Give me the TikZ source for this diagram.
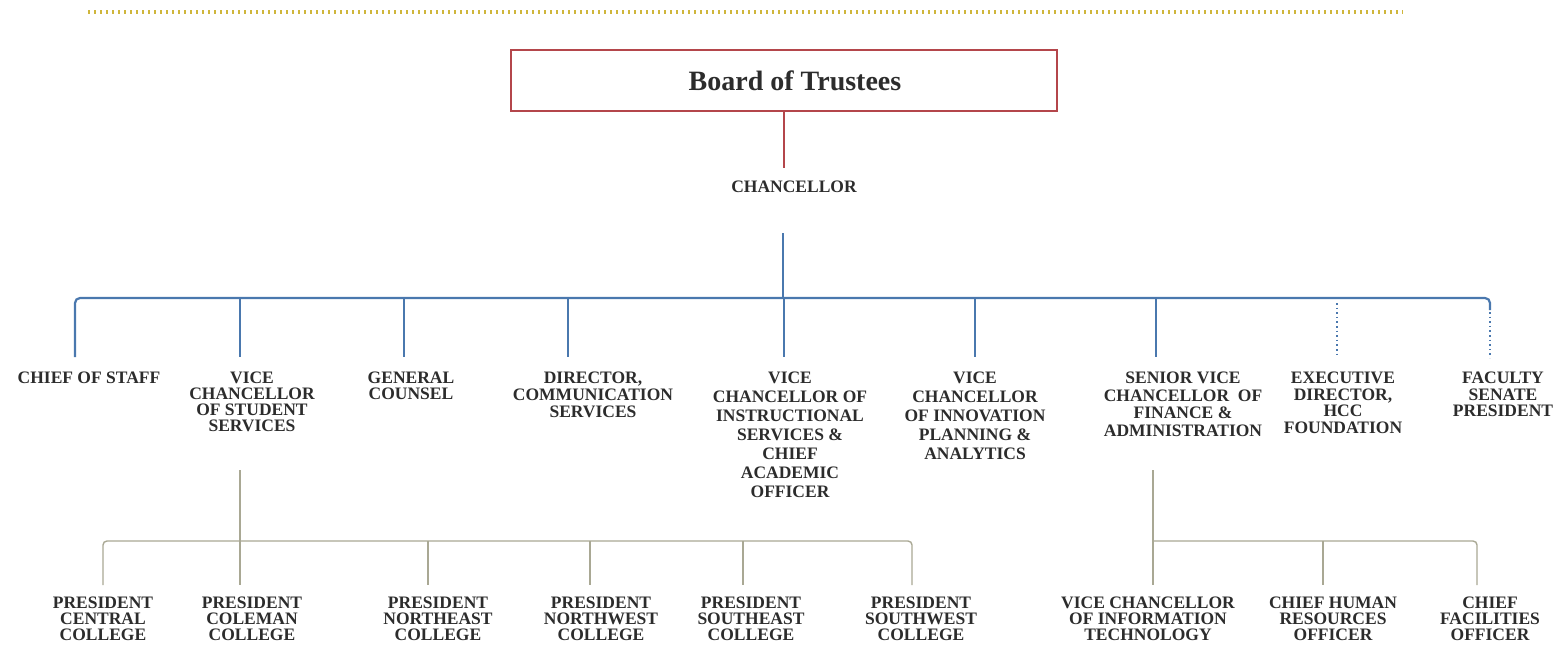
\documentclass[tikz,border=0pt]{standalone}
\usepackage{fontspec}
\setmainfont{Liberation Serif}
\definecolor{boardred}{HTML}{B4464B}
\definecolor{orgblue}{HTML}{4A78AE}
\definecolor{treegray}{HTML}{A9A894}
\definecolor{dotgold}{HTML}{CFB63C}
\definecolor{inkc}{HTML}{2C2C2C}
\begin{document}
\begin{tikzpicture}[x=1pt,y=-1pt,
  lbl/.style={font=\fontsize{17.5}{#1}\selectfont\bfseries, text=inkc,
    align=center, inner sep=0pt, anchor=north},
  lbl/.default=16,
  blueline/.style={draw=orgblue, line width=2.2pt},
  bluedot/.style={draw=orgblue, line width=2pt, dash pattern=on 1.6pt off 3pt},
  grayline/.style={draw=treegray, line width=1.4pt},
  redline/.style={draw=boardred, line width=1.8pt}]
\useasboundingbox (0,0) rectangle (1557,650);

% dotted rule along the top
\draw[dotgold, line width=3.4pt, dash pattern=on 2.2pt off 3.8pt] (88,12) -- (1403,12);

% board and chancellor
\node[draw=boardred, line width=1.6pt, minimum width=546pt, minimum height=61pt,
  font=\fontsize{28}{30}\selectfont\bfseries, text=inkc] (board) at (784,80.5)
  {\hspace*{22pt}Board of Trustees};
\node[lbl] (chan) at (794,181) {CHANCELLOR};
\draw[redline] (board.south) -- ++(0,56);

% first level
\node[lbl] (cos) at (89,372) {CHIEF OF STAFF};
\node[lbl] (vcss) at (252,372) {VICE\\CHANCELLOR\\OF STUDENT\\SERVICES};
\node[lbl] (gc) at (411,372) {GENERAL\\COUNSEL};
\node[lbl=17] (dcs) at (593,372) {DIRECTOR,\\COMMUNICATION\\SERVICES};
\node[lbl=19] (vcis) at (790,372) {VICE\\CHANCELLOR OF\\INSTRUCTIONAL\\SERVICES \&\\CHIEF\\ACADEMIC\\OFFICER};
\node[lbl=19] (vcip) at (975,372) {VICE\\CHANCELLOR\\OF INNOVATION\\PLANNING \&\\ANALYTICS};
\node[lbl=17.5] (svcf) at (1183,372) {SENIOR VICE\\CHANCELLOR~ OF\\FINANCE \&\\ADMINISTRATION};
\node[lbl=16.5] (edf) at (1343,372) {EXECUTIVE\\DIRECTOR,\\HCC\\FOUNDATION};
\node[lbl=16.5] (fsp) at (1503,372) {FACULTY\\SENATE\\PRESIDENT};

% second level
\node[lbl] (pcc) at (103,597) {PRESIDENT\\CENTRAL\\COLLEGE};
\node[lbl] (pcol) at (252,597) {PRESIDENT\\COLEMAN\\COLLEGE};
\node[lbl] (pne) at (438,597) {PRESIDENT\\NORTHEAST\\COLLEGE};
\node[lbl] (pnw) at (601,597) {PRESIDENT\\NORTHWEST\\COLLEGE};
\node[lbl] (pse) at (751,597) {PRESIDENT\\SOUTHEAST\\COLLEGE};
\node[lbl] (psw) at (921,597) {PRESIDENT\\SOUTHWEST\\COLLEGE};
\node[lbl] (vcit) at (1148,597) {VICE CHANCELLOR\\OF INFORMATION\\TECHNOLOGY};
\node[lbl] (chro) at (1333,597) {CHIEF HUMAN\\RESOURCES\\OFFICER};
\node[lbl] (cfo) at (1490,597) {CHIEF\\FACILITIES\\OFFICER};

% chancellor to first level
\coordinate (hub) at (783,298);
\draw[blueline] (chan.south -| hub) ++(0,40) -- (hub);
\draw[blueline, rounded corners=5pt] (75,357) -- (75,298) -- (1490,298) -- (1490,310);
\foreach \x in {240,404,568,784,975,1156}
  \draw[blueline] (\x,298) -- (\x,357);
\draw[bluedot] (1337,303) -- (1337,358);
\draw[bluedot] (1490,312) -- (1490,358);

% student services branch
\draw[grayline] (240,470) -- (240,585);
\draw[grayline, rounded corners=4pt] (103,585) -- (103,541) -- (912,541) -- (912,585);
\foreach \x in {428,590,743}
  \draw[grayline] (\x,541) -- (\x,585);

% finance branch
\draw[grayline] (1153,470) -- (1153,585);
\draw[grayline, rounded corners=4pt] (1153,541) -- (1477,541) -- (1477,585);
\draw[grayline] (1323,541) -- (1323,585);
\end{tikzpicture}
\end{document}
